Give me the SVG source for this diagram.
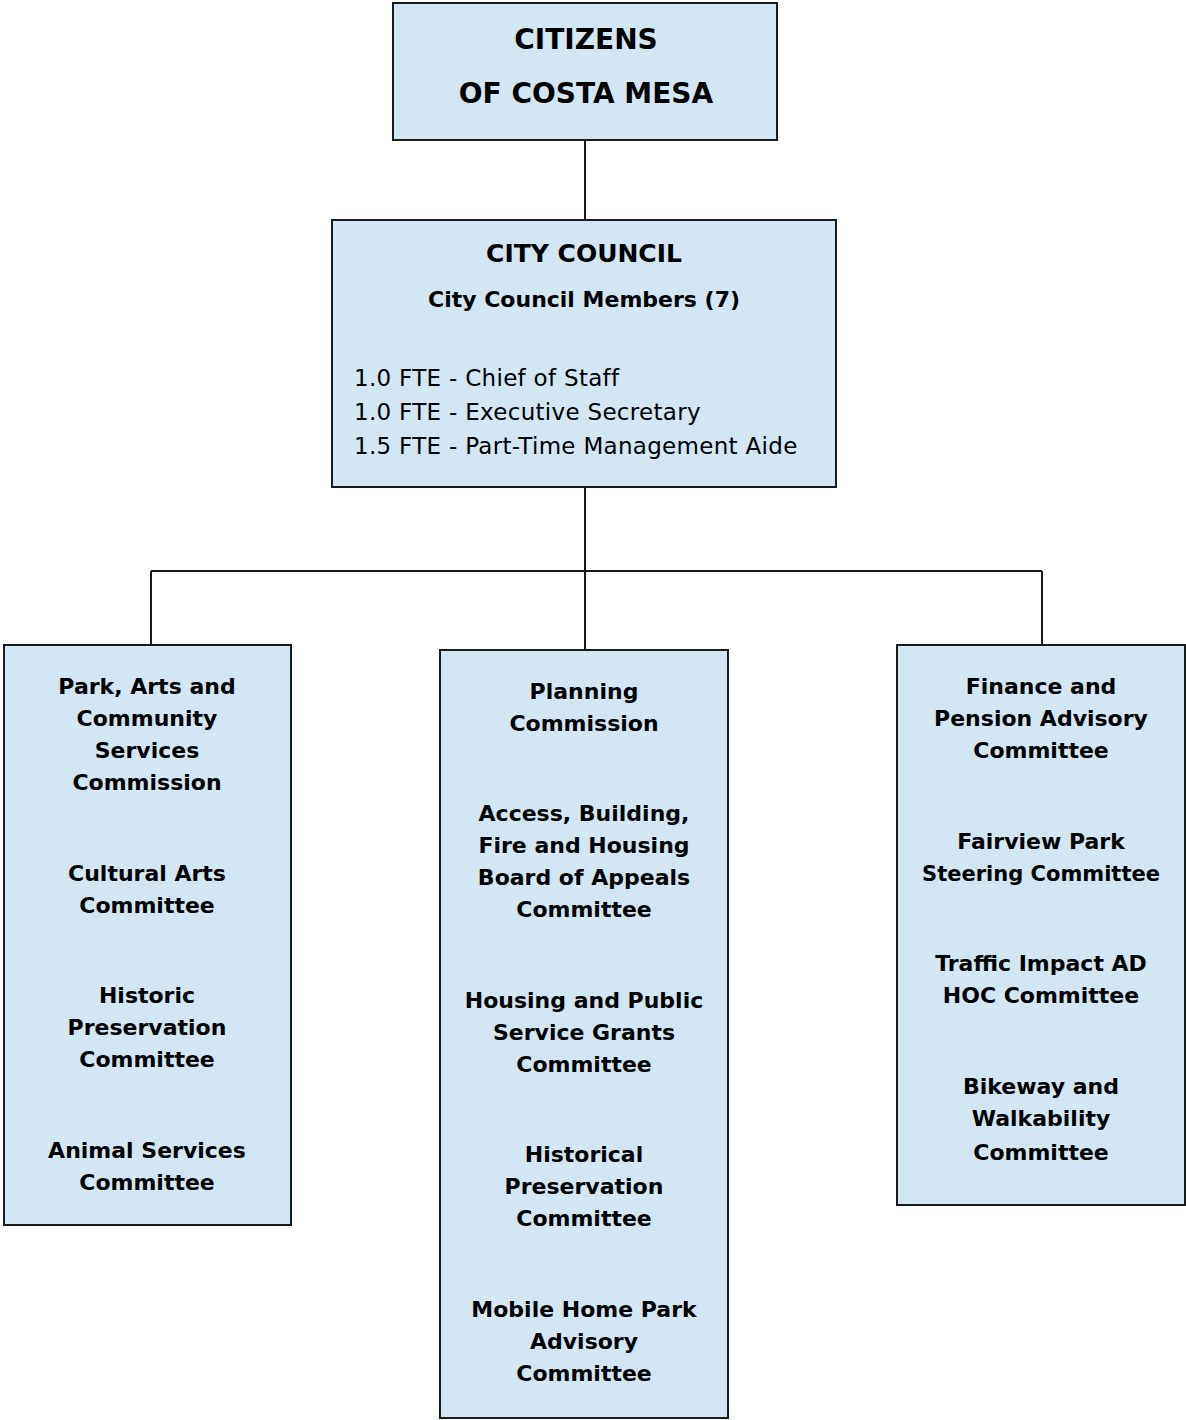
<svg xmlns="http://www.w3.org/2000/svg" width="1186" height="1420" viewBox="0 0 1186 1420">
<style>
.box{fill:#d2e6f4;stroke:#1a1a1a;stroke-width:2}
.conn line{stroke:#1a1a1a;stroke-width:2}
text{font-family:"DejaVu Sans",Verdana,sans-serif;fill:#000;text-anchor:middle}
.b{font-weight:bold;font-size:22px}
.t{font-weight:bold;font-size:28px}
.r{font-size:23px;letter-spacing:0.3px;text-anchor:start}
</style>
<rect width="1186" height="1420" fill="#fff"/>
<g class="conn" id="connectors">
<line x1="585" y1="140" x2="585" y2="220"/>
<line x1="585" y1="487" x2="585" y2="650"/>
<line x1="151" y1="571" x2="1042" y2="571"/>
<line x1="151" y1="571" x2="151" y2="645"/>
<line x1="1042" y1="571" x2="1042" y2="645"/>
</g>
<g id="citizens">
<rect class="box" x="393" y="3" width="384" height="137"/>
<text class="t" x="586" y="49">CITIZENS</text>
<text class="t" x="586" y="103">OF COSTA MESA</text>
</g>
<g id="council">
<rect class="box" x="332" y="220" width="504" height="267"/>
<text class="t" x="584" y="262" style="font-size:25px">CITY COUNCIL</text>
<text class="b" x="584" y="307">City Council Members (7)</text>
<text class="r" x="354" y="386">1.0 FTE - Chief of Staff</text>
<text class="r" x="354" y="420">1.0 FTE - Executive Secretary</text>
<text class="r" x="354" y="454">1.5 FTE - Part-Time Management Aide</text>
</g>
<g id="left">
<rect class="box" x="4" y="645" width="287" height="580"/>
<text class="b" x="147" y="694">Park, Arts and</text>
<text class="b" x="147" y="726">Community</text>
<text class="b" x="147" y="758">Services</text>
<text class="b" x="147" y="790">Commission</text>
<text class="b" x="147" y="881">Cultural Arts</text>
<text class="b" x="147" y="913">Committee</text>
<text class="b" x="147" y="1003">Historic</text>
<text class="b" x="147" y="1035">Preservation</text>
<text class="b" x="147" y="1067">Committee</text>
<text class="b" x="147" y="1158">Animal Services</text>
<text class="b" x="147" y="1190">Committee</text>
</g>
<g id="middle">
<rect class="box" x="440" y="650" width="288" height="768"/>
<text class="b" x="584" y="699">Planning</text>
<text class="b" x="584" y="731">Commission</text>
<text class="b" x="584" y="821">Access, Building,</text>
<text class="b" x="584" y="853">Fire and Housing</text>
<text class="b" x="584" y="885">Board of Appeals</text>
<text class="b" x="584" y="917">Committee</text>
<text class="b" x="584" y="1008">Housing and Public</text>
<text class="b" x="584" y="1040">Service Grants</text>
<text class="b" x="584" y="1072">Committee</text>
<text class="b" x="584" y="1162">Historical</text>
<text class="b" x="584" y="1194">Preservation</text>
<text class="b" x="584" y="1226">Committee</text>
<text class="b" x="584" y="1317">Mobile Home Park</text>
<text class="b" x="584" y="1349">Advisory</text>
<text class="b" x="584" y="1381">Committee</text>
</g>
<g id="right">
<rect class="box" x="897" y="645" width="288" height="560"/>
<text class="b" x="1041" y="694">Finance and</text>
<text class="b" x="1041" y="726">Pension Advisory</text>
<text class="b" x="1041" y="758">Committee</text>
<text class="b" x="1041" y="849">Fairview Park</text>
<text class="b" x="1041" y="881" style="font-size:21px">Steering Committee</text>
<text class="b" x="1041" y="971">Traffic Impact AD</text>
<text class="b" x="1041" y="1003">HOC Committee</text>
<text class="b" x="1041" y="1094">Bikeway and</text>
<text class="b" x="1041" y="1126">Walkability</text>
<text class="b" x="1041" y="1160">Committee</text>
</g>
</svg>
